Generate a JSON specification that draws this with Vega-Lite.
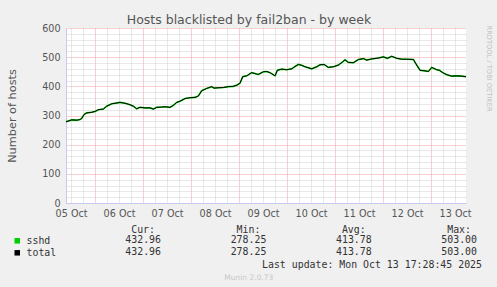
{
  "$schema": "https://vega.github.io/schema/vega-lite/v6.json",
  "background": "#F0F0F0",
  "padding": {"left": 6, "top": 13, "right": 8, "bottom": 12},
  "title": {"text": "Munin 2.0.73", "orient": "bottom", "anchor": "middle", "font": "DejaVu Sans", "fontSize": 7.5, "fontWeight": "normal", "color": "#C8C8C8", "offset": 4},
  "config": {
    "view": {"stroke": null},
    "axis": {"labelFont": "DejaVu Sans", "labelFontSize": 9.6, "labelColor": "#555555", "titleFont": "DejaVu Sans", "titleFontWeight": "normal", "titleColor": "#555555"}
  },
  "bounds": "flush",
  "spacing": 31.3,
  "vconcat": [
    {
      "width": 400,
      "height": 175,
      "view": {"fill": "#FFFFFF", "stroke": null},
      "title": {"text": "Hosts blacklisted by fail2ban - by week", "anchor": "middle", "frame": "group", "font": "DejaVu Sans", "fontSize": 12.5, "fontWeight": "normal", "color": "#555555", "offset": -3, "dx": -17},
      "data": {"values": [
        {"t": "2025-10-05T09:28:45Z", "sshd": 278.25, "total": 278.25},
        {"t": "2025-10-05T12:20Z", "sshd": 285, "total": 285},
        {"t": "2025-10-05T14:50Z", "sshd": 284, "total": 284},
        {"t": "2025-10-05T16:30Z", "sshd": 286, "total": 286},
        {"t": "2025-10-05T17:20Z", "sshd": 290, "total": 290},
        {"t": "2025-10-05T18:30Z", "sshd": 303, "total": 303},
        {"t": "2025-10-05T19:50Z", "sshd": 309, "total": 309},
        {"t": "2025-10-05T22:20Z", "sshd": 311, "total": 311},
        {"t": "2025-10-06T00:00Z", "sshd": 314, "total": 314},
        {"t": "2025-10-06T01:40Z", "sshd": 320, "total": 320},
        {"t": "2025-10-06T04:10Z", "sshd": 322, "total": 322},
        {"t": "2025-10-06T05:50Z", "sshd": 332, "total": 332},
        {"t": "2025-10-06T08:20Z", "sshd": 340, "total": 340},
        {"t": "2025-10-06T10:00Z", "sshd": 342, "total": 342},
        {"t": "2025-10-06T12:30Z", "sshd": 345, "total": 345},
        {"t": "2025-10-06T15:00Z", "sshd": 342, "total": 342},
        {"t": "2025-10-06T17:30Z", "sshd": 337, "total": 337},
        {"t": "2025-10-06T19:10Z", "sshd": 332, "total": 332},
        {"t": "2025-10-06T20:50Z", "sshd": 323, "total": 323},
        {"t": "2025-10-06T22:30Z", "sshd": 328, "total": 328},
        {"t": "2025-10-07T01:00Z", "sshd": 326, "total": 326},
        {"t": "2025-10-07T03:30Z", "sshd": 326, "total": 326},
        {"t": "2025-10-07T05:10Z", "sshd": 322, "total": 322},
        {"t": "2025-10-07T06:50Z", "sshd": 328, "total": 328},
        {"t": "2025-10-07T09:20Z", "sshd": 329, "total": 329},
        {"t": "2025-10-07T11:00Z", "sshd": 330, "total": 330},
        {"t": "2025-10-07T13:30Z", "sshd": 328, "total": 328},
        {"t": "2025-10-07T15:10Z", "sshd": 335, "total": 335},
        {"t": "2025-10-07T16:50Z", "sshd": 345, "total": 345},
        {"t": "2025-10-07T18:30Z", "sshd": 349, "total": 349},
        {"t": "2025-10-07T21:00Z", "sshd": 358, "total": 358},
        {"t": "2025-10-07T23:30Z", "sshd": 361, "total": 361},
        {"t": "2025-10-08T02:00Z", "sshd": 362, "total": 362},
        {"t": "2025-10-08T03:40Z", "sshd": 367, "total": 367},
        {"t": "2025-10-08T05:20Z", "sshd": 385, "total": 385},
        {"t": "2025-10-08T07:50Z", "sshd": 393, "total": 393},
        {"t": "2025-10-08T10:20Z", "sshd": 399, "total": 399},
        {"t": "2025-10-08T11:30Z", "sshd": 394, "total": 394},
        {"t": "2025-10-08T13:40Z", "sshd": 395, "total": 395},
        {"t": "2025-10-08T16:10Z", "sshd": 396, "total": 396},
        {"t": "2025-10-08T18:40Z", "sshd": 399, "total": 399},
        {"t": "2025-10-08T21:10Z", "sshd": 400, "total": 400},
        {"t": "2025-10-08T22:50Z", "sshd": 404, "total": 404},
        {"t": "2025-10-09T00:30Z", "sshd": 411, "total": 411},
        {"t": "2025-10-09T01:50Z", "sshd": 433, "total": 433},
        {"t": "2025-10-09T03:50Z", "sshd": 436, "total": 436},
        {"t": "2025-10-09T06:20Z", "sshd": 447, "total": 447},
        {"t": "2025-10-09T08:50Z", "sshd": 442, "total": 442},
        {"t": "2025-10-09T09:40Z", "sshd": 441, "total": 441},
        {"t": "2025-10-09T12:10Z", "sshd": 450, "total": 450},
        {"t": "2025-10-09T13:50Z", "sshd": 451, "total": 451},
        {"t": "2025-10-09T15:30Z", "sshd": 447, "total": 447},
        {"t": "2025-10-09T18:00Z", "sshd": 436, "total": 436},
        {"t": "2025-10-09T19:10Z", "sshd": 455, "total": 455},
        {"t": "2025-10-09T21:20Z", "sshd": 459, "total": 459},
        {"t": "2025-10-09T23:50Z", "sshd": 457, "total": 457},
        {"t": "2025-10-10T02:20Z", "sshd": 460, "total": 460},
        {"t": "2025-10-10T04:00Z", "sshd": 468, "total": 468},
        {"t": "2025-10-10T05:40Z", "sshd": 475, "total": 475},
        {"t": "2025-10-10T07:20Z", "sshd": 472, "total": 472},
        {"t": "2025-10-10T09:00Z", "sshd": 467, "total": 467},
        {"t": "2025-10-10T12:20Z", "sshd": 460, "total": 460},
        {"t": "2025-10-10T14:50Z", "sshd": 467, "total": 467},
        {"t": "2025-10-10T16:30Z", "sshd": 474, "total": 474},
        {"t": "2025-10-10T18:30Z", "sshd": 475, "total": 475},
        {"t": "2025-10-10T20:40Z", "sshd": 465, "total": 465},
        {"t": "2025-10-10T23:10Z", "sshd": 467, "total": 467},
        {"t": "2025-10-11T01:40Z", "sshd": 473, "total": 473},
        {"t": "2025-10-11T03:50Z", "sshd": 484, "total": 484},
        {"t": "2025-10-11T05:00Z", "sshd": 491, "total": 491},
        {"t": "2025-10-11T06:40Z", "sshd": 482, "total": 482},
        {"t": "2025-10-11T09:10Z", "sshd": 481, "total": 481},
        {"t": "2025-10-11T11:40Z", "sshd": 492, "total": 492},
        {"t": "2025-10-11T14:10Z", "sshd": 495, "total": 495},
        {"t": "2025-10-11T15:50Z", "sshd": 490, "total": 490},
        {"t": "2025-10-11T18:20Z", "sshd": 494, "total": 494},
        {"t": "2025-10-11T21:40Z", "sshd": 497, "total": 497},
        {"t": "2025-10-12T00:10Z", "sshd": 501, "total": 501},
        {"t": "2025-10-12T02:10Z", "sshd": 496, "total": 496},
        {"t": "2025-10-12T04:20Z", "sshd": 503, "total": 503},
        {"t": "2025-10-12T06:50Z", "sshd": 496, "total": 496},
        {"t": "2025-10-12T09:20Z", "sshd": 493, "total": 493},
        {"t": "2025-10-12T11:50Z", "sshd": 493, "total": 493},
        {"t": "2025-10-12T15:10Z", "sshd": 492, "total": 492},
        {"t": "2025-10-12T16:50Z", "sshd": 473, "total": 473},
        {"t": "2025-10-12T18:30Z", "sshd": 455, "total": 455},
        {"t": "2025-10-12T21:00Z", "sshd": 453, "total": 453},
        {"t": "2025-10-12T22:40Z", "sshd": 451, "total": 451},
        {"t": "2025-10-13T00:20Z", "sshd": 465, "total": 465},
        {"t": "2025-10-13T02:50Z", "sshd": 457, "total": 457},
        {"t": "2025-10-13T04:10Z", "sshd": 455, "total": 455},
        {"t": "2025-10-13T05:50Z", "sshd": 447, "total": 447},
        {"t": "2025-10-13T07:50Z", "sshd": 440, "total": 440},
        {"t": "2025-10-13T10:20Z", "sshd": 435, "total": 435},
        {"t": "2025-10-13T12:50Z", "sshd": 436, "total": 436},
        {"t": "2025-10-13T15:20Z", "sshd": 435, "total": 435},
        {"t": "2025-10-13T17:28:45Z", "sshd": 432.96, "total": 432.96}
      ]},
      "resolve": {"axis": {"x": "independent", "y": "independent"}},
      "layer": [
        {
          "mark": {"type": "line", "color": "#00CC00", "strokeWidth": 1.6},
          "encoding": {
            "x": {"field": "t", "type": "temporal", "scale": {"type": "utc", "nice": false},
              "axis": {"orient": "bottom", "values": [1759665600000, 1759687200000, 1759730400000, 1759752000000, 1759773600000, 1759816800000, 1759838400000, 1759860000000, 1759903200000, 1759924800000, 1759946400000, 1759989600000, 1760011200000, 1760032800000, 1760076000000, 1760097600000, 1760119200000, 1760162400000, 1760184000000, 1760205600000, 1760248800000, 1760270400000, 1760292000000, 1760335200000, 1760356800000],
                "grid": true, "gridColor": "#D0D0D0", "gridDash": [1, 1], "ticks": false, "domain": false, "title": null,
                "labelExpr": "utcFormat(datum.value, '%H') === '12' ? utcFormat(datum.value, '%d %b') : ''",
                "labelPadding": 5, "labelFlush": false, "labelOverlap": false}},
            "y": {"field": "sshd", "type": "quantitative", "scale": {"domain": [0, 600], "nice": false},
              "axis": {"orient": "right", "values": [20, 40, 60, 80, 120, 140, 160, 180, 220, 240, 260, 280, 320, 340, 360, 380, 420, 440, 460, 480, 520, 540, 560, 580],
                "grid": true, "gridColor": "#D0D0D0", "gridDash": [1, 1], "labels": false, "ticks": false, "domain": false,
                "title": "RRDTOOL / TOBI OETIKER", "titleFontSize": 6.7, "titleColor": "#C0C0C0", "titlePadding": 19, "titleAnchor": "end", "titleAlign": "left", "titleAngle": 90, "titleY": -3}}
          }
        },
        {
          "mark": {"type": "line", "color": "#000000", "strokeWidth": 1},
          "encoding": {
            "x": {"field": "t", "type": "temporal",
              "axis": {"orient": "bottom", "values": [1759708800000, 1759795200000, 1759881600000, 1759968000000, 1760054400000, 1760140800000, 1760227200000, 1760313600000],
                "grid": true, "gridColor": "#F0A0A0", "gridDash": [1, 1], "labels": false, "ticks": false, "domain": true, "domainColor": "#C8C8F0", "title": null}},
            "y": {"field": "total", "type": "quantitative",
              "axis": {"orient": "left", "values": [0, 100, 200, 300, 400, 500, 600], "grid": true, "gridColor": "#F0A0A0", "gridDash": [1, 1],
                "ticks": false, "domain": true, "domainColor": "#C8C8F0", "labelPadding": 6,
                "title": "Number of hosts", "titleFontSize": 11.3, "titlePadding": 24}}
          }
        }
      ]
    },
    {
      "width": 411,
      "height": 24,
      "data": {"values": [
        {"series": "sshd", "stat": "Cur", "value": 432.96},
        {"series": "sshd", "stat": "Min", "value": 278.25},
        {"series": "sshd", "stat": "Avg", "value": 413.78},
        {"series": "sshd", "stat": "Max", "value": 503.00},
        {"series": "total", "stat": "Cur", "value": 432.96},
        {"series": "total", "stat": "Min", "value": 278.25},
        {"series": "total", "stat": "Avg", "value": 413.78},
        {"series": "total", "stat": "Max", "value": 503.00}
      ]},
      "title": {"text": "Last update: Mon Oct 13 17:28:45 2025", "orient": "bottom", "anchor": "end", "font": "DejaVu Sans Mono", "fontSize": 9.9, "fontWeight": "normal", "color": "#333333", "offset": 2, "dx": 5},
      "resolve": {"axis": {"x": "independent", "y": "independent"}},
      "layer": [
        {
          "transform": [{"filter": "datum.series === 'sshd'"}],
          "mark": {"type": "text", "font": "DejaVu Sans Mono", "fontSize": 9.9, "align": "right", "baseline": "middle", "color": "#333333"},
          "encoding": {
            "x": {"field": "stat", "type": "nominal", "sort": ["Cur", "Min", "Avg", "Max"],
              "scale": {"type": "point", "padding": 0.451, "align": 1},
              "axis": {"orient": "top", "title": null, "ticks": false, "domain": false, "labelExpr": "datum.label + ':'", "labelFont": "DejaVu Sans Mono", "labelFontSize": 9.9, "labelColor": "#333333", "labelAlign": "right", "labelOffset": -6.5, "labelPadding": 0, "labelAngle": 0}},
            "y": {"field": "series", "type": "nominal", "scale": {"type": "point", "padding": 0.5, "domain": ["sshd", "total"]},
              "axis": {"orient": "left", "values": ["sshd"], "title": null, "domain": false, "ticks": true, "tickSize": 5.5, "tickWidth": 5.5, "tickColor": "#00CC00",
                "offset": 46.5, "labelAlign": "left", "labelPadding": -12, "labelFont": "DejaVu Sans Mono", "labelFontSize": 9.9, "labelColor": "#333333"}},
            "text": {"field": "value", "type": "quantitative", "format": ".2f"}
          }
        },
        {
          "transform": [{"filter": "datum.series === 'total'"}],
          "mark": {"type": "text", "font": "DejaVu Sans Mono", "fontSize": 9.9, "align": "right", "baseline": "middle", "color": "#333333"},
          "encoding": {
            "x": {"field": "stat", "type": "nominal", "sort": ["Cur", "Min", "Avg", "Max"], "axis": null},
            "y": {"field": "series", "type": "nominal",
              "axis": {"orient": "left", "values": ["total"], "title": null, "domain": false, "ticks": true, "tickSize": 5.5, "tickWidth": 5.5, "tickColor": "#000000",
                "offset": 46.5, "labelAlign": "left", "labelPadding": -12, "labelFont": "DejaVu Sans Mono", "labelFontSize": 9.9, "labelColor": "#333333"}},
            "text": {"field": "value", "type": "quantitative", "format": ".2f"}
          }
        }
      ]
    }
  ]
}
